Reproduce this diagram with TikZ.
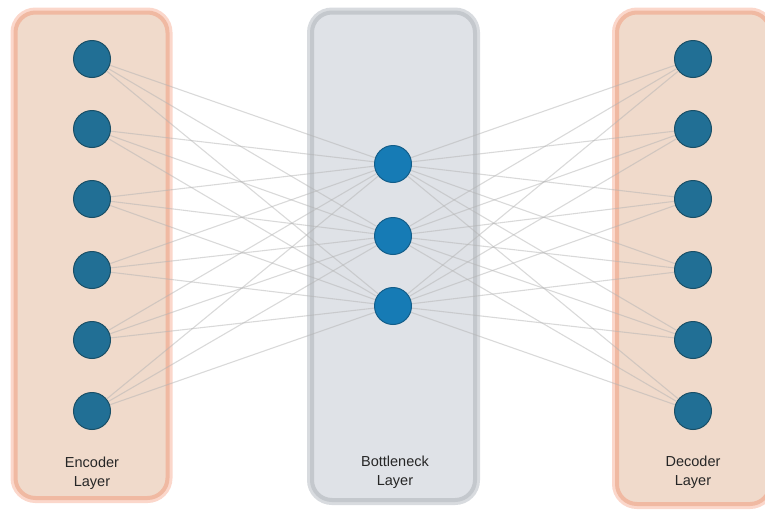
\documentclass[tikz,border=0pt]{standalone}
\usepackage{fontspec}
\setmainfont{Liberation Sans}
\pgfdeclarelayer{boxes}
\pgfdeclarelayer{links}
\pgfsetlayers{boxes,links,main}
\begin{document}
\begin{tikzpicture}[x=1pt,y=-1pt,
  halo/.style={line width=10pt, rounded corners=20pt},
  encbox/.style={rounded corners=20pt, line width=4pt, draw=encborder, fill=encfill},
  botbox/.style={rounded corners=20pt, line width=4pt, draw=botborder, fill=botfill},
  encnode/.style={circle, minimum size=37pt, inner sep=0pt, fill=encnodefill, draw=encnodeline, line width=1pt},
  botnode/.style={circle, minimum size=37pt, inner sep=0pt, fill=botnodefill, draw=botnodeline, line width=1pt},
  link/.style={draw=linkgray, line width=1.1pt, opacity=0.5},
  lbl/.style={font=\fontsize{14.5}{18.5}\selectfont, align=center, text=black!85}
]
\definecolor{encfill}{HTML}{F0DACB}
\definecolor{encborder}{HTML}{F0B9A2}
\definecolor{enchalo}{HTML}{FBD7CB}
\definecolor{botfill}{HTML}{DFE2E7}
\definecolor{botborder}{HTML}{C4C8CD}
\definecolor{bothalo}{HTML}{D8DBDF}
\definecolor{encnodefill}{HTML}{216F95}
\definecolor{encnodeline}{HTML}{1A4F66}
\definecolor{botnodefill}{HTML}{167BB5}
\definecolor{botnodeline}{HTML}{135E8A}
\definecolor{linkgray}{HTML}{B4B4B4}
\useasboundingbox (0,0) rectangle (765,509);
% boxes
\begin{pgfonlayer}{boxes}
\draw[enchalo, halo] (15.5,12.5) rectangle (167.5,498);
\draw[encbox] (15.5,12.5) rectangle (167.5,498);
\draw[bothalo, halo] (312,12.5) rectangle (475,500);
\draw[botbox] (312,12.5) rectangle (475,500);
\draw[enchalo, halo] (617,12.5) rectangle (770,504);
\draw[encbox] (617,12.5) rectangle (770,504);
\end{pgfonlayer}
% nodes
\foreach \i/\y in {1/59,2/129,3/199,4/270,5/340,6/411} {
  \node[encnode] (e\i) at (92,\y) {};
  \node[encnode] (d\i) at (693,\y) {};
}
\foreach \i/\y in {1/164,2/236,3/306} {
  \node[botnode] (b\i) at (393,\y) {};
}
% links
\begin{pgfonlayer}{links}
\foreach \i in {1,...,6} {
  \foreach \j in {1,2,3} {
    \draw[link] (e\i) -- (b\j);
    \draw[link] (b\j) -- (d\i);
  }
}
\end{pgfonlayer}
% labels
\node[lbl] (encl) at (92,473) {Encoder\\Layer};
\node[lbl] (botl) at (395,472) {Bottleneck\\Layer};
\node[lbl] (decl) at (693,472) {Decoder\\Layer};
\end{tikzpicture}
\end{document}
